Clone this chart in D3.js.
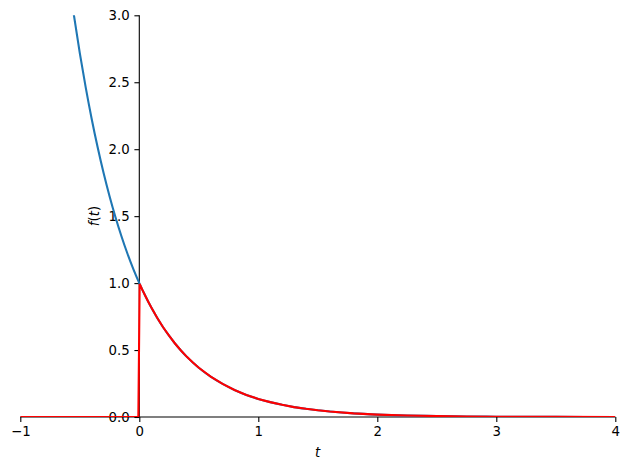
<!DOCTYPE html>
<html lang="en">
  <head>
    <meta charset="UTF-8" />
    <title>f(t) plot</title>
    <style>
      body {
        margin: 0;
        overflow: hidden;
        background: white;
      }
      text {
        font-family: "DejaVu Sans", sans-serif;
        fill: black;
      }
      .tick text {
        font-size: 13.3px;
      }
      .tick line,
      .domain {
        stroke: black;
        stroke-width: 1.1px;
      }
    </style>
    <script src="https://unpkg.com/d3@7.8.1/dist/d3.min.js"></script>
  </head>
  <body>
    <script>
      const { select, scaleLinear, axisLeft, axisBottom, line, curveMonotoneX, curveLinear } = d3;

      // blue curve
      const blueT = [-0.6, -0.55, -0.5, -0.45, -0.4, -0.35, -0.3, -0.25, -0.2, -0.15, -0.1, -0.05,
        0, 0.05, 0.1, 0.15, 0.2, 0.25, 0.3, 0.35, 0.4, 0.45, 0.5, 0.6, 0.7, 0.8, 0.9, 1.0,
        1.1, 1.2, 1.3, 1.4, 1.5, 1.6, 1.8, 2.0, 2.25, 2.5, 2.75, 3.0, 3.5, 4.0];
      const blueF = [3.320, 3.004, 2.718, 2.460, 2.226, 2.014, 1.822, 1.649, 1.492, 1.350, 1.221, 1.105,
        1.000, 0.905, 0.819, 0.741, 0.670, 0.607, 0.549, 0.497, 0.449, 0.407, 0.368, 0.301, 0.247, 0.202, 0.165, 0.135,
        0.111, 0.091, 0.074, 0.061, 0.050, 0.041, 0.027, 0.018, 0.011, 0.007, 0.004, 0.002, 0.001, 0.000];

      // red curve (zero before t=0, then follows the blue one)
      const redT = [-1, -0.008, 0.003, 0.025, 0.05, 0.075, 0.1, 0.15, 0.2, 0.25, 0.3, 0.35, 0.4, 0.45, 0.5, 0.6, 0.7, 0.8, 0.9, 1.0,
        1.1, 1.2, 1.3, 1.4, 1.5, 1.6, 1.8, 2.0, 2.25, 2.5, 2.75, 3.0, 3.5, 4.0];
      const redF = [0, 0, 0.994, 0.951, 0.905, 0.861, 0.819, 0.741, 0.670, 0.607, 0.549, 0.497, 0.449, 0.407, 0.368, 0.301, 0.247, 0.202, 0.165, 0.135,
        0.111, 0.091, 0.074, 0.061, 0.050, 0.041, 0.027, 0.018, 0.011, 0.007, 0.004, 0.002, 0.001, 0.000];

      const xTicks = [-1, 0, 1, 2, 3, 4];
      const yTicks = [0, 0.5, 1, 1.5, 2, 2.5, 3];

      const width = 630;
      const height = 470;
      const margin = { top: 15.3, right: 14.7, bottom: 53, left: 20.3 };

      const svg = select("body")
        .append("svg")
        .attr("width", width)
        .attr("height", height);

      const x = scaleLinear()
        .domain([-1, 4])
        .range([margin.left, width - margin.right]);

      const y = scaleLinear()
        .domain([0, 3])
        .range([height - margin.bottom, margin.top]);

      svg.append("clipPath")
        .attr("id", "clip")
        .append("rect")
        .attr("x", margin.left)
        .attr("y", margin.top)
        .attr("width", x(4) - x(-1))
        .attr("height", y(0) - y(3));

      // axes cross at (0, 0)
      svg.append("g")
        .attr("transform", `translate(0, ${y(0)})`)
        .call(axisBottom(x).tickValues(xTicks).tickFormat(d => d < 0 ? "\u2212" + Math.abs(d) : d)
          .tickSize(4.9).tickPadding(4.7))
        .call(g => g.selectAll(".domain").attr("d", `M${x(-1)},0H${x(4)}`));

      svg.append("g")
        .attr("transform", `translate(${x(0)}, 0)`)
        .call(axisLeft(y).tickValues(yTicks).tickFormat(d3.format(".1f"))
          .tickSize(4.9).tickPadding(4.7))
        .call(g => g.selectAll(".domain").attr("d", `M0,${y(0)}V${y(3)}`));

      svg.selectAll(".tick text").attr("font-family", "DejaVu Sans");

      const blueLine = line()
        .x(d => x(d[0]))
        .y(d => y(d[1]))
        .curve(curveMonotoneX);

      // the red one keeps its sharp corner at the jump
      const redLine = line()
        .x(d => x(d[0]))
        .y(d => y(d[1]))
        .curve(curveLinear);

      const plot = svg.append("g").attr("clip-path", "url(#clip)");

      plot.append("path")
        .datum(blueT.map((t, i) => [t, blueF[i]]))
        .attr("d", blueLine)
        .attr("fill", "none")
        .attr("stroke", "#1f77b4")
        .attr("stroke-width", 2.1);

      plot.append("path")
        .datum(redT.map((t, i) => [t, redF[i]]))
        .attr("d", redLine)
        .attr("fill", "none")
        .attr("stroke", "#ff0000")
        .attr("stroke-width", 2.1);

      // axis labels
      svg.append("text")
        .attr("x", 317.7)
        .attr("y", 456.5)
        .attr("text-anchor", "middle")
        .attr("font-size", "13.3px")
        .attr("font-style", "italic")
        .text("t");

      const yl = svg.append("text")
        .attr("transform", "translate(98.5, 216) rotate(-90)")
        .attr("text-anchor", "middle")
        .attr("font-size", "13.3px");
      yl.append("tspan").attr("font-style", "italic").text("f");
      yl.append("tspan").text("(");
      yl.append("tspan").attr("font-style", "italic").text("t");
      yl.append("tspan").text(")");
    </script>
  </body>
</html>
